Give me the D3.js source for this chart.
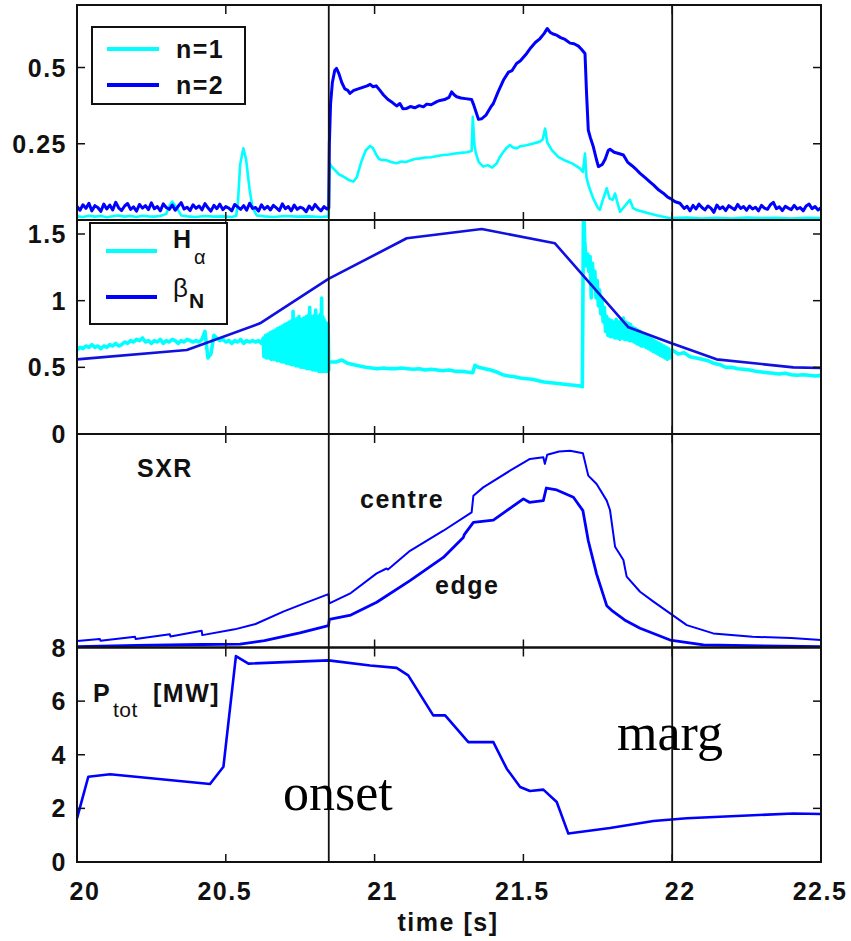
<!DOCTYPE html>
<html>
<head>
<meta charset="utf-8">
<script src="https://cdn.jsdelivr.net/npm/d3@7/dist/d3.min.js"></script>
<style>
  html, body { margin: 0; padding: 0; background: #fff; }
  svg text { font-family: "Liberation Sans", Arial, sans-serif; }
  svg text.serif { font-family: "Liberation Serif", "Times New Roman", serif; }
</style>
</head>
<body>
<svg id="chart" width="851" height="941"></svg>
<script>
// ---------------- data ----------------
const timeDomain = [20, 22.5];
const xTickValues = [20, 20.5, 21, 21.5, 22, 22.5];
const markerTimes = [20.846, 22.0];          // onset / marginal instants

// uniformly sampled segments: [startTime, step, values]
function sampled(t0, dt, values) {
  return values.map((v, i) => [t0 + i * dt, v]);
}

// panel 1 : mode amplitudes
const n2Before = sampled(20.0, 0.01, [
  0.045,0.032,0.050,0.038,0.055,0.030,0.047,0.041,0.028,0.052,0.036,0.049,0.033,0.058,0.040,
  0.031,0.046,0.054,0.035,0.043,0.029,0.051,0.039,0.047,0.034,0.056,0.037,0.044,0.030,0.053,
  0.041,0.035,0.049,0.032,0.045,0.057,0.036,0.042,0.031,0.050,0.038,0.046,0.033,0.054,0.040,
  0.029,0.048,0.037,0.052,0.034,0.044,0.039,0.030,0.051,0.043,0.035,0.047,0.032,0.055,0.038,
  0.041,0.029,0.050,0.036,0.045,0.033,0.048,0.040,0.031,0.053,0.037,0.044,0.030,0.049,0.035,
  0.042,0.038,0.027,0.046,0.034,0.051,0.039,0.030,0.044,0.036]);
const n2Mode = [
  [20.846,0.040],[20.848,0.25],[20.852,0.38],[20.858,0.45],[20.866,0.49],[20.872,0.497],[20.88,0.48],
  [20.89,0.45],[20.90,0.43],[20.91,0.425],[20.917,0.415],[20.93,0.425],[20.945,0.43],[20.96,0.435],
  [20.975,0.44],[20.985,0.445],[20.995,0.437],[21.005,0.44],[21.018,0.425],[21.03,0.41],[21.045,0.395],
  [21.06,0.385],[21.074,0.374],[21.085,0.382],[21.095,0.365],[21.108,0.366],[21.12,0.372],[21.135,0.368],
  [21.15,0.375],[21.164,0.371],[21.175,0.38],[21.19,0.378],[21.209,0.388],[21.22,0.392],[21.235,0.395],
  [21.25,0.402],[21.259,0.42],[21.268,0.41],[21.276,0.404],[21.29,0.40],[21.305,0.398],[21.326,0.395],
  [21.332,0.38],[21.337,0.366],[21.349,0.33],[21.36,0.332],[21.375,0.345],[21.39,0.37],[21.399,0.382],
  [21.415,0.42],[21.433,0.459],[21.45,0.485],[21.462,0.49],[21.477,0.513],[21.49,0.522],[21.511,0.546],
  [21.525,0.565],[21.54,0.582],[21.556,0.595],[21.57,0.612],[21.58,0.628],[21.59,0.615],[21.60,0.61],
  [21.612,0.606],[21.625,0.598],[21.64,0.592],[21.657,0.58],[21.67,0.578],[21.685,0.57],[21.695,0.56],
  [21.707,0.546],[21.712,0.42],[21.718,0.295],[21.725,0.27],[21.735,0.24],[21.745,0.20],[21.752,0.175],
  [21.765,0.182],[21.775,0.20],[21.785,0.228],[21.791,0.232],[21.805,0.222],[21.82,0.218],[21.836,0.213],
  [21.85,0.19],[21.865,0.178],[21.88,0.165],[21.892,0.153],[21.91,0.138],[21.925,0.125],[21.937,0.115],
  [21.955,0.098],[21.97,0.088],[21.985,0.075],[21.993,0.071],[22.01,0.06],[22.026,0.055]];
const n2After = sampled(22.03, 0.01, [
  0.050,0.038,0.045,0.030,0.048,0.036,0.052,0.041,0.033,0.046,0.039,0.025,0.049,0.037,0.043,
  0.031,0.047,0.040,0.034,0.051,0.038,0.044,0.032,0.046,0.036,0.042,0.030,0.048,0.039,0.035,
  0.050,0.058,0.037,0.043,0.031,0.045,0.039,0.034,0.048,0.036,0.041,0.030,0.046,0.052,0.037,
  0.044,0.033,0.040]);

const n1Before = [
  [20.00,0.012],[20.02,0.010],[20.04,0.014],[20.06,0.011],[20.08,0.013],[20.10,0.009],[20.12,0.012],
  [20.14,0.015],[20.16,0.011],[20.18,0.013],[20.20,0.010],[20.22,0.014],[20.24,0.012],[20.26,0.011],
  [20.28,0.013],[20.30,0.020],[20.31,0.045],[20.32,0.060],[20.335,0.040],[20.35,0.015],[20.37,0.012],
  [20.40,0.010],[20.43,0.013],[20.46,0.011],[20.49,0.012],[20.52,0.010],[20.535,0.014],[20.541,0.06],
  [20.548,0.18],[20.559,0.235],[20.568,0.20],[20.58,0.10],[20.59,0.04],[20.604,0.015],[20.63,0.012],
  [20.66,0.010],[20.70,0.013],[20.74,0.011],[20.78,0.012],[20.82,0.010],[20.845,0.012]];
const n1Mode = [
  [20.846,0.012],[20.848,0.186],[20.86,0.17],[20.88,0.15],[20.90,0.14],[20.915,0.13],[20.929,0.126],
  [20.94,0.14],[20.955,0.19],[20.97,0.228],[20.985,0.243],[20.995,0.235],[21.005,0.215],[21.015,0.20],
  [21.024,0.197],[21.04,0.196],[21.055,0.19],[21.074,0.186],[21.09,0.192],[21.105,0.19],[21.12,0.195],
  [21.135,0.20],[21.153,0.202],[21.17,0.205],[21.19,0.206],[21.21,0.21],[21.231,0.213],[21.25,0.215],
  [21.27,0.218],[21.29,0.22],[21.31,0.222],[21.326,0.226],[21.330,0.338],[21.335,0.25],[21.34,0.22],
  [21.35,0.19],[21.365,0.175],[21.38,0.18],[21.395,0.172],[21.41,0.185],[21.42,0.205],[21.433,0.224],
  [21.445,0.238],[21.455,0.246],[21.465,0.238],[21.477,0.235],[21.49,0.242],[21.51,0.245],[21.53,0.25],
  [21.556,0.257],[21.565,0.265],[21.573,0.30],[21.58,0.255],[21.595,0.23],[21.617,0.207],[21.64,0.195],
  [21.665,0.185],[21.69,0.169],[21.70,0.158],[21.707,0.218],[21.712,0.14],[21.72,0.11],[21.735,0.07],
  [21.75,0.04],[21.757,0.033],[21.765,0.06],[21.78,0.104],[21.79,0.07],[21.80,0.066],[21.808,0.087],
  [21.815,0.06],[21.825,0.027],[21.84,0.045],[21.858,0.066],[21.868,0.04],[21.88,0.033],[21.90,0.028],
  [21.92,0.022],[21.95,0.015],[21.993,0.006],[22.05,0.008],[22.10,0.005],[22.15,0.007],[22.20,0.005],
  [22.25,0.008],[22.30,0.006],[22.35,0.007],[22.40,0.005],[22.45,0.007],[22.50,0.006]];

// panel 2 : H-alpha and normalised beta
const halphaQuiet = sampled(20.0, 0.01, [
  0.63,0.65,0.64,0.66,0.65,0.67,0.65,0.66,0.64,0.66,
  0.65,0.67,0.66,0.68,0.66,0.67,0.69,0.68,0.70,0.69,
  0.71,0.70,0.72,0.69,0.70,0.68,0.70,0.69,0.71,0.68,
  0.70,0.69,0.71,0.70,0.68,0.70,0.69,0.71,0.70,0.69,
  0.70,0.69,0.71,0.77,0.57,0.60,0.74,0.72,0.70,0.71,
  0.69,0.70,0.68,0.70,0.69,0.71,0.68,0.70,0.69,0.70,
  0.69,0.70,0.68]);
const halphaElms = sampled(20.626, 0.002, [
  0.72,0.58,0.70,0.59,0.74,0.57,0.71,0.58,0.75,0.57,
  0.72,0.58,0.76,0.56,0.73,0.57,0.77,0.56,0.74,0.57,
  0.78,0.56,0.75,0.55,0.79,0.56,0.76,0.55,0.80,0.55,
  0.77,0.54,0.81,0.55,0.78,0.54,0.82,0.54,0.79,0.53,
  0.83,0.54,0.80,0.53,0.84,0.53,0.81,0.52,0.85,0.53,
  0.92,0.52,0.82,0.52,0.86,0.51,0.83,0.52,0.87,0.51,
  0.88,0.51,0.84,0.50,0.86,0.51,0.83,0.50,0.87,0.50,
  0.84,0.50,0.88,0.49,0.85,0.50,0.89,0.49,0.95,0.49,
  0.86,0.49,0.88,0.48,0.85,0.49,0.89,0.48,0.93,0.48,
  0.86,0.48,0.88,0.47,0.85,0.48,0.90,0.47,1.02,0.47,
  0.88,0.47,0.86,0.48,0.84,0.47,0.83,0.80,0.47,0.82,0.48]);
const halphaMode = [
  [20.848,0.54],[20.87,0.54],[20.89,0.555],[20.91,0.53],[20.93,0.52],[20.95,0.51],[20.97,0.50],
  [20.99,0.495],[21.01,0.49],[21.03,0.495],[21.05,0.49],[21.07,0.49],[21.09,0.495],[21.11,0.49],
  [21.13,0.485],[21.15,0.49],[21.17,0.48],[21.19,0.485],[21.21,0.48],[21.23,0.475],[21.25,0.48],
  [21.27,0.47],[21.29,0.47],[21.31,0.465],[21.33,0.46],[21.337,0.515],[21.35,0.50],[21.37,0.49],
  [21.39,0.48],[21.41,0.465],[21.43,0.445],[21.45,0.435],[21.47,0.43],[21.49,0.42],[21.51,0.415],
  [21.53,0.41],[21.55,0.40],[21.57,0.39],[21.59,0.385],[21.61,0.38],[21.63,0.375],[21.65,0.37],
  [21.67,0.365],[21.69,0.36],[21.698,0.355],[21.702,1.70],[21.706,1.45]];
const halphaCrash = sampled(21.708, 0.004, [
  1.38,1.26,1.35,1.22,1.33,1.02,1.28,1.12,1.22,1.02,1.15,0.96,1.08,0.90,1.00,0.84,0.95,0.77,0.88,0.74,
  0.86,0.73,0.85,0.73,0.84,0.72,0.86,0.72,0.84,0.71,0.85,0.72,0.87,0.71,0.84,0.71,0.83,0.70,0.82,0.70,
  0.80,0.69,0.79,0.68,0.78,0.67,0.77,0.66,0.75,0.66,0.74,0.65,0.73,0.64,0.72,0.63,0.71,0.62,0.70,0.61,
  0.69,0.60,0.68,0.59,0.67,0.58,0.66,0.57,0.65,0.56,0.64,0.57,0.62]);
const halphaAfter = sampled(22.0, 0.02, [
  0.63,0.60,0.61,0.58,0.57,0.56,0.55,0.53,0.52,0.50,0.50,0.49,0.485,0.48,0.47,0.465,0.46,0.455,
  0.45,0.455,0.445,0.44,0.445,0.44,0.435,0.44]);
const betaN = [
  [20.0,0.56],[20.369,0.63],[20.615,0.83],[20.845,1.163],[21.108,1.468],[21.36,1.538],[21.606,1.43],
  [21.853,0.80],[21.993,0.685],[22.149,0.56],[22.407,0.50],[22.5,0.495]];

// panel 3 : soft X-ray (arbitrary units)
const sxrCentre = [
  [20.00,0.030],[20.077,0.040],[20.079,0.032],[20.195,0.050],[20.197,0.040],[20.312,0.062],[20.314,0.052],
  [20.419,0.078],[20.421,0.058],[20.53,0.085],[20.60,0.110],[20.693,0.168],[20.77,0.21],[20.845,0.25],
  [20.848,0.207],[20.92,0.255],[21.007,0.347],[21.04,0.37],[21.045,0.365],[21.119,0.453],[21.231,0.547],
  [21.326,0.633],[21.332,0.711],[21.365,0.75],[21.455,0.828],[21.522,0.883],[21.567,0.891],[21.572,0.86],
  [21.58,0.903],[21.62,0.918],[21.657,0.922],[21.70,0.91],[21.718,0.805],[21.746,0.766],[21.78,0.688],
  [21.791,0.644],[21.808,0.472],[21.836,0.41],[21.847,0.332],[21.892,0.261],[21.937,0.215],[21.993,0.16],
  [22.049,0.105],[22.138,0.066],[22.27,0.05],[22.40,0.045],[22.5,0.035]];
const sxrEdge = [
  [20.00,0.004],[20.20,0.010],[20.42,0.014],[20.548,0.016],[20.63,0.032],[20.749,0.069],[20.845,0.102],
  [20.848,0.132],[20.92,0.152],[21.007,0.212],[21.119,0.313],[21.231,0.422],[21.298,0.515],[21.302,0.53],
  [21.332,0.586],[21.399,0.597],[21.50,0.696],[21.52,0.68],[21.567,0.688],[21.577,0.747],[21.612,0.738],
  [21.668,0.704],[21.70,0.641],[21.718,0.50],[21.746,0.344],[21.78,0.196],[21.80,0.17],[21.84,0.129],
  [21.892,0.09],[21.993,0.035],[22.105,0.012],[22.5,0.004]];

// panel 4 : total heating power [MW]
const pTot = [
  [20.0,1.63],[20.038,3.18],[20.111,3.27],[20.447,2.91],[20.492,3.55],[20.534,7.68],[20.576,7.40],
  [20.845,7.52],[20.985,7.33],[21.074,7.24],[21.113,6.96],[21.197,5.47],[21.237,5.47],[21.315,4.47],
  [21.399,4.47],[21.444,3.48],[21.489,2.80],[21.522,2.65],[21.567,2.70],[21.612,2.24],[21.651,1.06],
  [21.791,1.27],[21.937,1.53],[22.049,1.63],[22.407,1.81],[22.5,1.79]];

// tick values per panel
const modeTicks = [0.25, 0.5];
const betaTicks = [0, 0.5, 1, 1.5];
const powerTicks = [0, 2, 4, 6, 8];

// ---------------- layout ----------------
const CYAN = "#00ffff", BLUE = "#0000ff";
const svg = d3.select("#chart");
const left = 77, right = 821;
const x = d3.scaleLinear().domain(timeDomain).range([left, right]);

const panels = [
  { top: 5,     bottom: 220,   domain: [0, 0.705], ticks: modeTicks,  labels: modeTicks },
  { top: 220,   bottom: 434,   domain: [0, 1.605], ticks: [0.5, 1, 1.5], labels: betaTicks },
  { top: 434,   bottom: 647.5, domain: [0, 1],     ticks: [],         labels: [] },
  { top: 647.5, bottom: 862,   domain: [0, 8],     ticks: [2, 4, 6],  labels: powerTicks }
];
panels.forEach((p, i) => {
  p.y = d3.scaleLinear().domain(p.domain).range([p.bottom, p.top]);
  svg.append("clipPath").attr("id", "clip" + i)
    .append("rect").attr("x", left).attr("y", p.top)
    .attr("width", right - left).attr("height", p.bottom - p.top);
});

const fmt = d => d3.format("")(d);
const labelFont = (sel) => sel.attr("font-size", 25).attr("font-weight", "bold")
  .attr("letter-spacing", "1.5px").attr("fill", "#111");

// series
function drawLine(pi, data, color, width) {
  const p = panels[pi];
  const line = d3.line().x(d => x(d[0])).y(d => p.y(d[1]));
  svg.append("path").datum(data)
    .attr("clip-path", `url(#clip${pi})`)
    .attr("d", line).attr("fill", "none")
    .attr("stroke", color).attr("stroke-width", width)
    .attr("stroke-linejoin", "round").attr("stroke-linecap", "round");
}

drawLine(0, n1Before.concat(n1Mode), CYAN, 2.6);
drawLine(0, n2Before.concat(n2Mode, n2After), BLUE, 3);

drawLine(1, halphaQuiet.concat(halphaElms), CYAN, 3.6);
drawLine(1, halphaMode.concat(halphaCrash, halphaAfter), CYAN, 3.6);
drawLine(1, betaN, "#1010e0", 2.6);

drawLine(2, sxrCentre, BLUE, 2);
drawLine(2, sxrEdge, BLUE, 2.8);

drawLine(3, pTot, BLUE, 2.6);

// frames and ticks
panels.forEach((p, i) => {
  const g = svg.append("g");
  // x ticks, inward at top and bottom
  const xt = xTickValues.slice(1, -1);
  g.selectAll(null).data(xt).join("line")
    .attr("x1", d => x(d)).attr("x2", d => x(d))
    .attr("y1", p.top).attr("y2", p.top + 9)
    .attr("stroke", "#111").attr("stroke-width", 1.5);
  g.selectAll(null).data(xt).join("line")
    .attr("x1", d => x(d)).attr("x2", d => x(d))
    .attr("y1", p.bottom).attr("y2", p.bottom - 8)
    .attr("stroke", "#111").attr("stroke-width", 1.5);
  // y ticks, inward on both sides
  g.selectAll(null).data(p.ticks).join("line")
    .attr("x1", left).attr("x2", left + 8)
    .attr("y1", d => p.y(d)).attr("y2", d => p.y(d))
    .attr("stroke", "#111").attr("stroke-width", 1.5);
  g.selectAll(null).data(p.ticks).join("line")
    .attr("x1", right).attr("x2", right - 8)
    .attr("y1", d => p.y(d)).attr("y2", d => p.y(d))
    .attr("stroke", "#111").attr("stroke-width", 1.5);
  // y labels
  g.selectAll(null).data(p.labels).join("text")
    .attr("x", left - 10).attr("y", d => p.y(d)).attr("dy", "0.36em")
    .attr("text-anchor", "end").text(fmt).call(labelFont);
  // frame
  g.append("rect").attr("x", left).attr("y", p.top)
    .attr("width", right - left).attr("height", p.bottom - p.top)
    .attr("fill", "none").attr("stroke", "#111").attr("stroke-width", 2);
});

// event markers across all panels
svg.selectAll(null).data(markerTimes).join("line")
  .attr("x1", d => x(d)).attr("x2", d => x(d))
  .attr("y1", panels[0].top).attr("y2", panels[3].bottom)
  .attr("stroke", "#111").attr("stroke-width", 1.8);

// x tick labels (integer labels sit slightly right of their tick)
svg.selectAll(null).data(xTickValues).join("text")
  .attr("x", d => x(d) + (Number.isInteger(d) ? 8 : -1))
  .attr("y", 900).attr("text-anchor", "middle")
  .text(fmt).call(labelFont);

svg.append("text").attr("x", 448).attr("y", 931).attr("text-anchor", "middle")
  .text("time [s]").call(labelFont);

// legend, panel 1
const lg1 = svg.append("g");
lg1.append("rect").attr("x", 92).attr("y", 27).attr("width", 153).attr("height", 77)
  .attr("fill", "#fff").attr("stroke", "#111").attr("stroke-width", 2);
[["n=1", CYAN, 49], ["n=2", BLUE, 85]].forEach(([name, c, yy]) => {
  lg1.append("line").attr("x1", 107).attr("x2", 159).attr("y1", yy).attr("y2", yy)
    .attr("stroke", c).attr("stroke-width", 4);
  lg1.append("text").attr("x", 176).attr("y", yy + 9).text(name).call(labelFont);
});

// legend, panel 2
const lg2 = svg.append("g");
lg2.append("rect").attr("x", 90).attr("y", 223).attr("width", 137).attr("height", 101)
  .attr("fill", "#fff").attr("stroke", "#111").attr("stroke-width", 2);
lg2.append("line").attr("x1", 106).attr("x2", 157).attr("y1", 251).attr("y2", 251)
  .attr("stroke", CYAN).attr("stroke-width", 4);
lg2.append("line").attr("x1", 106).attr("x2", 157).attr("y1", 297).attr("y2", 297)
  .attr("stroke", BLUE).attr("stroke-width", 4);
const ha = lg2.append("text").attr("x", 173).attr("y", 248).call(labelFont);
ha.append("tspan").text("H");
ha.append("tspan").attr("x", 194).attr("y", 264).attr("font-size", 20)
  .attr("font-weight", "normal").attr("letter-spacing", "0px").text("α");
const bn = lg2.append("text").attr("x", 173).attr("y", 297).call(labelFont);
bn.append("tspan").attr("font-weight", "normal").attr("font-size", 26).attr("letter-spacing", "0px").text("β");
bn.append("tspan").attr("x", 189).attr("y", 308).attr("font-size", 21).text("N");

// panel 3 annotations
svg.append("text").attr("x", 137).attr("y", 477).text("SXR").call(labelFont);
svg.append("text").attr("x", 360).attr("y", 508).text("centre").call(labelFont);
svg.append("text").attr("x", 435).attr("y", 594).text("edge").call(labelFont);

// panel 4 annotations
const pt = svg.append("text").attr("x", 93).attr("y", 702).call(labelFont);
pt.append("tspan").text("P");
pt.append("tspan").attr("x", 113).attr("y", 717).attr("font-size", 21)
  .attr("font-weight", "normal").attr("letter-spacing", "0.5px").text("tot");
pt.append("tspan").attr("x", 153).attr("y", 702).text("[MW]");

svg.append("text").attr("class", "serif").attr("x", 283).attr("y", 810)
  .attr("font-size", 52).attr("fill", "#000").text("onset");
svg.append("text").attr("class", "serif").attr("x", 617).attr("y", 750)
  .attr("font-size", 52).attr("fill", "#000").text("marg");
</script>
</body>
</html>
